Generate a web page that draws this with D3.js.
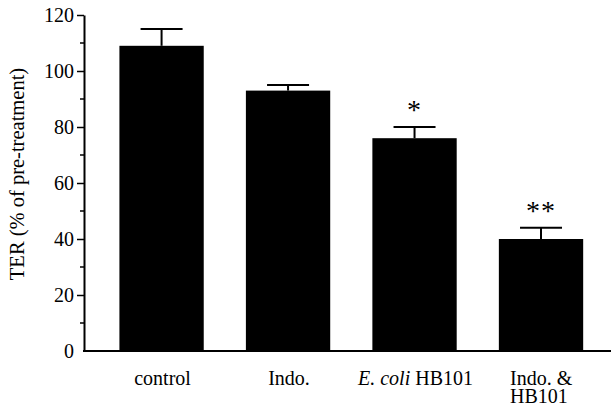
<!DOCTYPE html>
<html>
<head>
<meta charset="utf-8">
<script src="https://cdn.jsdelivr.net/npm/d3@7"></script>
<style>
  body { margin: 0; background: #fff; }
  svg text { font-family: "Liberation Serif", "Times New Roman", serif; fill: #000; }
</style>
</head>
<body>
<svg width="611" height="408"></svg>
<script>
const groups = ['control', 'Indo.', 'E. coli HB101', 'Indo. & HB101'];
const means = [109, 93, 76, 40];
const errors = [6, 2, 4, 4];
const stars = ['', '', '*', '**'];
const yTicks = [0, 20, 40, 60, 80, 100, 120];

const data = groups.map((g, i) => ({ name: g, mean: means[i], err: errors[i], star: stars[i] }));

const svg = d3.select('svg');

const x = d3.scaleBand()
    .domain(groups)
    .range([84, 611])
    .paddingInner(1 / 3)
    .paddingOuter(0.25)
    .align(0.56);

const y = d3.scaleLinear()
    .domain([0, 120])
    .range([351, 15]);

// bars
svg.selectAll('rect.bar')
    .data(data)
    .join('rect')
    .attr('class', 'bar')
    .attr('x', d => x(d.name))
    .attr('y', d => y(d.mean))
    .attr('width', x.bandwidth())
    .attr('height', d => y(0) - y(d.mean))
    .attr('fill', '#000');

// error bars (upper only)
const eb = svg.append('g').attr('stroke', '#000').attr('stroke-width', 2);
eb.selectAll('line.stem')
    .data(data)
    .join('line')
    .attr('x1', d => x(d.name) + x.bandwidth() / 2)
    .attr('x2', d => x(d.name) + x.bandwidth() / 2)
    .attr('y1', d => y(d.mean))
    .attr('y2', d => y(d.mean + d.err));
eb.selectAll('line.cap')
    .data(data)
    .join('line')
    .attr('x1', d => x(d.name) + x.bandwidth() / 2 - 21)
    .attr('x2', d => x(d.name) + x.bandwidth() / 2 + 21)
    .attr('y1', d => y(d.mean + d.err))
    .attr('y2', d => y(d.mean + d.err));

// significance stars
svg.selectAll('text.star')
    .data(data.filter(d => d.star))
    .join('text')
    .attr('x', d => x(d.name) + x.bandwidth() / 2)
    .attr('y', d => y(d.mean + d.err) - 8)
    .attr('text-anchor', 'middle')
    .attr('font-size', 28)
    .attr('letter-spacing', 1)
    .text(d => d.star);

// y axis
const yAxis = svg.append('g')
    .attr('transform', 'translate(84,0)')
    .call(d3.axisLeft(y).tickValues(yTicks).tickSize(7).tickPadding(3).tickSizeOuter(0));
yAxis.select('.domain').attr('stroke-width', 2);
yAxis.selectAll('.tick line').attr('stroke-width', 1.5);
yAxis.selectAll('.tick text')
    .attr('font-size', 20)
    .attr('font-family', '"Liberation Serif", serif');
yAxis.selectAll('.tick').filter(d => d === 0).select('line').remove();

// minor ticks
svg.append('g')
    .selectAll('line')
    .data(d3.range(10, 120, 20))
    .join('line')
    .attr('x1', 80)
    .attr('x2', 84)
    .attr('y1', d => y(d))
    .attr('y2', d => y(d))
    .attr('stroke', '#000')
    .attr('stroke-width', 1.5);

// x axis line
svg.append('line')
    .attr('x1', x.range()[0] - 1)
    .attr('x2', x.range()[1])
    .attr('y1', y(0))
    .attr('y2', y(0))
    .attr('stroke', '#000')
    .attr('stroke-width', 2);

// x labels
const lab = svg.append('g').attr('font-size', 20).attr('text-anchor', 'middle');
function addLabel(name, cx) {
    const t = lab.append('text').attr('x', cx).attr('y', 385);
    if (name === 'E. coli HB101') {
        t.append('tspan').attr('font-style', 'italic').text('E. coli');
        t.append('tspan').text(' HB101');
    } else if (name === 'Indo. & HB101') {
        t.attr('text-anchor', 'start').attr('x', cx - 32);
        t.append('tspan').text('Indo. &');
        t.append('tspan').attr('x', cx - 32).attr('dy', 18).text('HB101');
    } else {
        t.text(name);
    }
}
groups.forEach(g => addLabel(g, x(g) + x.bandwidth() / 2 + 1));

// y label
svg.append('text')
    .attr('transform', 'translate(24,174) rotate(-90)')
    .attr('text-anchor', 'middle')
    .attr('font-size', 20.5)
    .text('TER (% of pre-treatment)');
</script>
</body>
</html>
